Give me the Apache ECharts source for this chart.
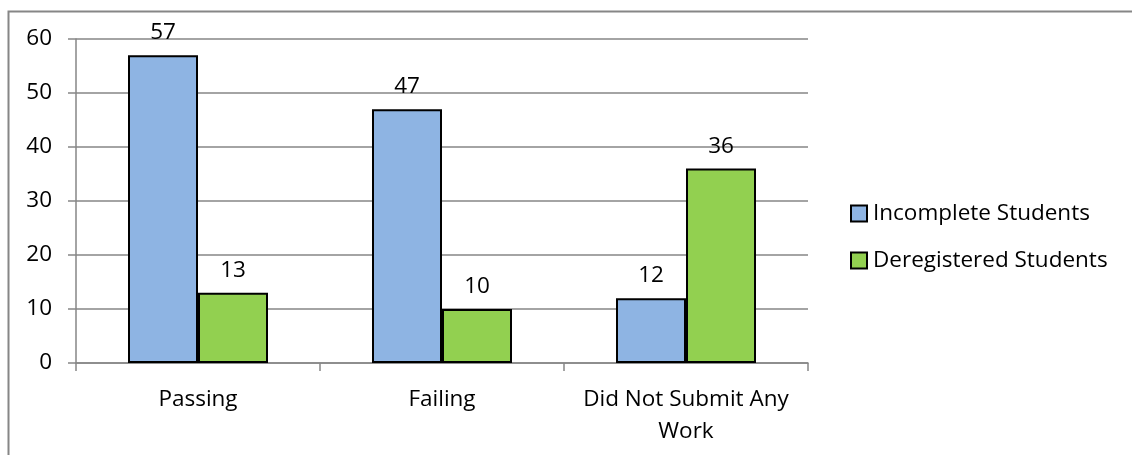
<!DOCTYPE html>
<html>
<head>
<meta charset="utf-8">
<script src="https://cdn.jsdelivr.net/npm/echarts@6/dist/echarts.min.js"></script>
<style>html,body{margin:0;padding:0;background:#fff}#c{width:1132px;height:455px}</style>
</head>
<body>
<div id="c"></div>
<script>
const categories = ['Passing', 'Failing', 'Did Not Submit Any\nWork'];
const incompleteStudents = [57, 47, 12];
const deregisteredStudents = [13, 10, 36];
const yTicks = [0, 10, 20, 30, 40, 50, 60];

const FONT = '"Open Sans", sans-serif';
const FS = 22.5;
const chart = echarts.init(document.getElementById('c'));
chart.setOption({
  animation: false,
  backgroundColor: '#fff',
  graphic: [{
    type: 'rect', left: 6, top: 9,
    shape: { width: 1200, height: 500 },
    style: { fill: 'none', stroke: '#868686', lineWidth: 2 }, silent: true
  }],
  grid: { left: 76, right: 324, top: 39, bottom: 92 },
  legend: {
    orient: 'vertical', left: 845, top: 197, itemGap: 24,
    itemWidth: 16, itemHeight: 16, icon: 'rect',
    textStyle: { fontFamily: FONT, fontSize: FS, color: '#000', padding: [0, 0, 0, 1] },
    data: ['Incomplete Students', 'Deregistered Students']
  },
  xAxis: {
    type: 'category', data: categories,
    axisLine: { lineStyle: { color: '#868686', width: 1.5 } },
    axisTick: { show: true, length: 8, lineStyle: { color: '#868686', width: 1.5 } },
    axisLabel: { fontFamily: FONT, fontSize: FS, color: '#000', margin: 21, lineHeight: 32, interval: 0 }
  },
  yAxis: {
    type: 'value', min: 0, max: 60, interval: 10,
    axisLine: { show: true, lineStyle: { color: '#868686', width: 1.5 } },
    axisTick: { show: true, length: 8, lineStyle: { color: '#868686', width: 1.5 } },
    splitLine: { lineStyle: { color: '#868686', width: 1.5 } },
    axisLabel: {
      fontFamily: FONT, fontSize: FS, color: '#000', margin: 24,
      formatter: v => (yTicks.includes(v) ? String(v) : '')
    }
  },
  series: [
    {
      name: 'Incomplete Students', type: 'bar', data: incompleteStudents,
      barWidth: 70, barGap: '0%',
      itemStyle: { color: '#8EB4E3', borderColor: '#000', borderWidth: 2 },
      label: { show: true, position: 'top', distance: 11, fontFamily: FONT, fontSize: FS, color: '#000' }
    },
    {
      name: 'Deregistered Students', type: 'bar', data: deregisteredStudents,
      barWidth: 70, barGap: '0%',
      itemStyle: { color: '#92D050', borderColor: '#000', borderWidth: 2 },
      label: { show: true, position: 'top', distance: 11, fontFamily: FONT, fontSize: FS, color: '#000' }
    }
  ]
});
</script>
</body>
</html>
